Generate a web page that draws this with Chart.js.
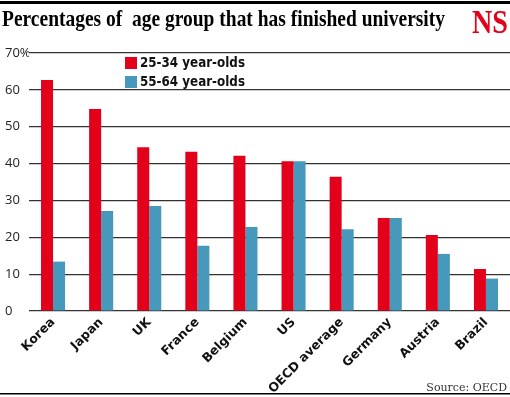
<!DOCTYPE html>
<html lang="en">
<head>
<meta charset="UTF-8">
<title>Percentages of age group that has finished university</title>
<style>
    body {
        margin: 0;
        padding: 0;
        background: #fff;
    }

    .container {
        position: relative;
        width: 510px;
        height: 397px;
    }
</style>
</head>
<body>
<div class="container">
    <canvas id="uniChart" width="510" height="397"></canvas>
</div>

<script src="https://cdn.jsdelivr.net/npm/chart.js"></script>
<script>
    // Data
    const countries = ['Korea', 'Japan', 'UK', 'France', 'Belgium', 'US', 'OECD average', 'Germany', 'Austria', 'Brazil'];
    const young = [62.7, 54.8, 44.4, 43.2, 42.1, 40.6, 36.4, 25.2, 20.6, 11.4];   // 25-34 year-olds
    const old = [13.4, 27.1, 28.5, 17.7, 22.8, 40.6, 22.2, 25.2, 15.5, 8.8];      // 55-64 year-olds
    const seriesNames = ['25-34 year-olds', '55-64 year-olds'];
    const yTicks = [0, 10, 20, 30, 40, 50, 60, 70];

    const RED = '#e2001a';
    const BLUE = '#4699bb';
    const LABEL_FONT = '"DejaVu Sans", sans-serif';

    // Title, logo, legend, source line
    const decor = {
        id: 'decor',
        afterDraw(chart) {
            const c = chart.ctx;
            c.save();
            c.fillStyle = '#000';
            c.fillRect(0, 1, 510, 3);

            // title (squeezed to fit like the original)
            c.font = 'bold 24px "Liberation Serif"';
            c.textBaseline = 'alphabetic';
            c.textAlign = 'left';
            const title = 'Percentages of  age group that has finished university';
            const tw = c.measureText(title).width;
            c.save();
            c.translate(2, 26);
            c.scale(443 / tw, 1);
            c.fillText(title, 0, 0);
            c.restore();

            // NS logo
            c.font = 'bold 33px "Liberation Serif"';
            c.fillStyle = RED;
            const nw = c.measureText('NS').width;
            c.save();
            c.translate(472, 33);
            c.scale(36 / nw, 1);
            c.fillText('NS', 0, 0);
            c.restore();

            // legend
            const colors = [RED, BLUE];
            c.font = 'bold 14px ' + LABEL_FONT;
            c.textBaseline = 'middle';
            chart.data.datasets.forEach((ds, i) => {
                const y = 57 + i * 19;
                c.fillStyle = colors[i];
                c.fillRect(125, y, 12, 12);
                c.fillStyle = '#111';
                const w = c.measureText(ds.label).width;
                c.save();
                c.translate(140, y + 6);
                c.scale(105 / w, 1);
                c.fillText(ds.label, 0, 0);
                c.restore();
            });

            // source + bottom rule
            c.font = '11px "DejaVu Serif"';
            c.fillStyle = '#333';
            c.textAlign = 'right';
            c.textBaseline = 'alphabetic';
            c.fillText('Source: OECD', 507, 391);
            c.fillStyle = '#000';
            c.fillRect(0, 393, 510, 1.5);
            c.restore();
        }
    };

    const ctx = document.getElementById('uniChart').getContext('2d');
    const uniChart = new Chart(ctx, {
        type: 'bar',
        data: {
            labels: countries,
            datasets: [
                { label: seriesNames[0], data: young, backgroundColor: RED },
                { label: seriesNames[1], data: old, backgroundColor: BLUE }
            ]
        },
        options: {
            responsive: false,
            animation: false,
            layout: { padding: { left: 5, right: 0, top: 53, bottom: 0 } },
            datasets: {
                bar: { categoryPercentage: 0.5, barPercentage: 1 }
            },
            plugins: {
                legend: { display: false },
                tooltip: { enabled: false }
            },
            scales: {
                x: {
                    grid: { display: false },
                    border: { display: false },
                    ticks: {
                        autoSkip: false,
                        maxRotation: 45,
                        minRotation: 45,
                        padding: -4,
                        color: '#111',
                        font: { family: LABEL_FONT, weight: 'bold', size: 12.5 }
                    },
                    afterFit(scale) { scale.height = 86; }
                },
                y: {
                    min: 0,
                    max: 70,
                    border: { display: false },
                    grid: { color: '#333', lineWidth: 1.2, drawTicks: false },
                    afterBuildTicks(scale) { scale.ticks = yTicks.map(v => ({ value: v })); },
                    afterFit(scale) { scale.width = 24; },
                    ticks: {
                        crossAlign: 'far',
                        padding: 0,
                        color: '#222',
                        font: { family: 'Open Sans', size: 13 },
                        callback: v => v === 70 ? '70%' : v
                    }
                }
            }
        },
        plugins: [decor]
    });
</script>
</body>
</html>
